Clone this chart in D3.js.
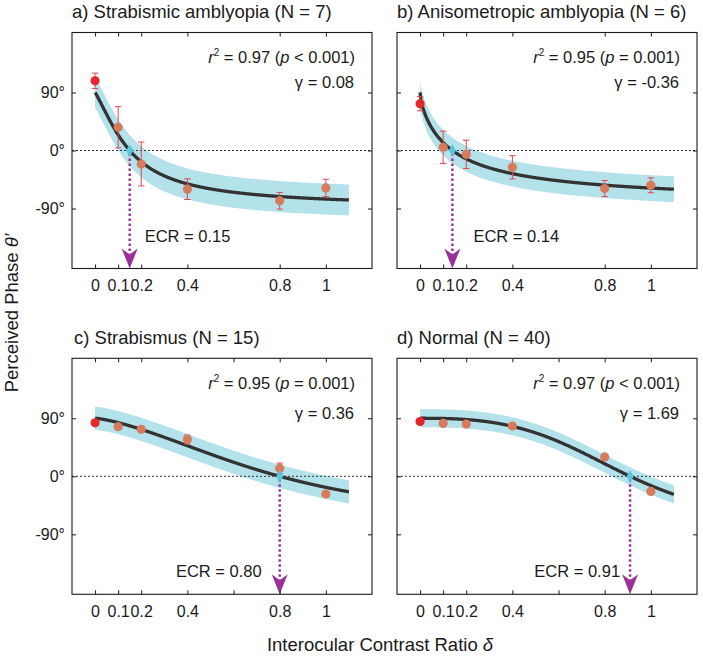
<!DOCTYPE html>
<html><head><meta charset="utf-8">
<script src="https://cdn.jsdelivr.net/npm/d3@7"></script>
<style>
body{margin:0;background:#fff;}
svg{display:block;}
text{font-family:Arial,"Liberation Sans",sans-serif;fill:#1a1a1a;white-space:pre;}
</style>
</head><body>
<svg id="chart" width="703" height="658"></svg>
<script>
// ---------- data ----------
const deltas = [0, 0.1, 0.2, 0.4, 0.8, 1];
const titles = ["a) Strabismic amblyopia (N = 7)", "b) Anisometropic amblyopia (N = 6)",
                "c) Strabismus (N = 15)", "d) Normal (N = 40)"];
const phaseA = [108, 36, -21, -60, -78, -58];
const errA   = [12, 32, 34, 16, 13, 13.5];
const phaseB = [72.5, 5, -6, -26, -59, -54];
const errB   = [11, 25, 22, 18, 12.5, 11.5];
const phaseC = [83, 77, 73, 57, 12.5, -27.6];
const errC   = [3, 3, 3, 7, 8, 4];
const phaseD = [85, 82, 81, 78, 30, -23.5];
const errD   = [2, 2, 2, 2, 2, 2];
const ecrValues   = [0.15, 0.14, 0.80, 0.91];
const ecrLabels   = ["0.15", "0.14", "0.80", "0.91"];
const gammaValues = [0.08, -0.36, 0.36, 1.69];
const gammaLabels = ["0.08", "-0.36", "0.36", "1.69"];
const r2Labels    = ["0.97", "0.95", "0.95", "0.97"];
const pLabels     = ["< 0.001", "= 0.001", "= 0.001", "< 0.001"];
const bandHalfWidth = [24, 20, 18, 14];       // degrees
const xTicksTop    = [0, 0.1, 0.2, 0.4, 0.8, 1];
const xTicksBottom = [0, 0.1, 0.2, 0.4, 0.6, 0.8, 1];
const xTickLabels  = {0: "0", 0.1: "0.1", 0.2: "0.2", 0.4: "0.4", 0.8: "0.8", 1: "1"};
const yTicks = [-90, 0, 90];
const yTickLabels = {"-90": "-90°", "0": "0°", "90": "90°"};
const fitRange = [0, 1.1];

const phases = [phaseA, phaseB, phaseC, phaseD];
const errs = [errA, errB, errC, errD];

// ---------- layout ----------
const W = 300, H = 236;
const layout = [
  {x0: 72,  y0: 32.5,  titleX: 72,  ecrDx: 15,  ecrAnchor: "start", ecrDy: -27, gDy: 55, xt: xTicksTop,    yl: true},
  {x0: 397, y0: 32.5,  titleX: 397, ecrDx: 21,  ecrAnchor: "start", ecrDy: -27, gDy: 55, xt: xTicksTop,    yl: false},
  {x0: 72,  y0: 358.3, titleX: 74,  ecrDx: -18, ecrAnchor: "end",   ecrDy: -17, gDy: 61, xt: xTicksBottom, yl: true},
  {x0: 397, y0: 358.3, titleX: 397, ecrDx: -10, ecrAnchor: "end",   ecrDy: -17, gDy: 61, xt: xTicksBottom, yl: false}
];

const C = {
  band: "#b4e2eb", curve: "#333333", red: "#e5262b", salmon: "#d67b5c",
  err: "#e0474f", arrow: "#9b309b", diamond: "#5bc5de", frame: "#1a1a1a"
};

// fitted phase-combination model (parameters ECR and gamma from the chart)
function model(d, ecr, g) {
  const r = Math.pow(d / ecr, 1 + g);
  return 2 * Math.atan((1 - r) / (1 + r)) * 180 / Math.PI;
}

const svg = d3.select("#chart");

layout.forEach((L, i) => {
  const x = d3.scaleLinear().domain([-0.1, 1.2]).range([L.x0, L.x0 + W]);
  const y = d3.scaleLinear().domain([-183, 183]).range([L.y0 + H, L.y0]);
  const g = svg.append("g");
  const ecr = ecrValues[i], gam = gammaValues[i];

  // clip
  const cid = "clip" + i;
  svg.append("clipPath").attr("id", cid).append("rect")
    .attr("x", L.x0).attr("y", L.y0).attr("width", W).attr("height", H);
  const inner = g.append("g").attr("clip-path", `url(#${cid})`);

  const samples = d3.range(fitRange[0], fitRange[1] + 1e-9, 0.002);
  const band = bandHalfWidth[i];
  inner.append("path").datum(samples)
    .attr("d", d3.area().x(d => x(d))
      .y0(d => y(model(d, ecr, gam) - band))
      .y1(d => y(model(d, ecr, gam) + band)))
    .attr("fill", C.band);

  // zero dotted line
  inner.append("line").attr("x1", L.x0).attr("x2", L.x0 + W)
    .attr("y1", y(0)).attr("y2", y(0))
    .attr("stroke", "#333").attr("stroke-width", 1).attr("stroke-dasharray", "2,2");

  // fitted curve
  inner.append("path").datum(samples)
    .attr("d", d3.line().x(d => x(d)).y(d => y(model(d, ecr, gam))))
    .attr("fill", "none").attr("stroke", C.curve).attr("stroke-width", 3.3);

  // error bars
  const pts = deltas.map((d, k) => ({d, v: phases[i][k], e: errs[i][k], k}));
  const eb = inner.append("g").attr("stroke", C.err).attr("stroke-width", 1);
  pts.forEach(p => {
    eb.append("line").attr("x1", x(p.d)).attr("x2", x(p.d)).attr("y1", y(p.v - p.e)).attr("y2", y(p.v + p.e));
    [p.v - p.e, p.v + p.e].forEach(v => {
      eb.append("line").attr("x1", x(p.d) - 3.2).attr("x2", x(p.d) + 3.2).attr("y1", y(v)).attr("y2", y(v));
    });
  });
  // points
  inner.selectAll("circle.pt").data(pts).join("circle").attr("class", "pt")
    .attr("cx", p => x(p.d)).attr("cy", p => y(p.v)).attr("r", 4.6)
    .attr("fill", p => p.k === 0 ? C.red : C.salmon);

  // ECR arrow
  const ax = x(ecr), bottom = L.y0 + H;
  g.append("line").attr("x1", ax).attr("x2", ax).attr("y1", y(0) + 3).attr("y2", bottom - 14)
    .attr("stroke", C.arrow).attr("stroke-width", 2.4).attr("stroke-dasharray", "2.5,2.5");
  g.append("path")
    .attr("d", `M${ax},${bottom} L${ax - 8},${bottom - 20} L${ax},${bottom - 14} L${ax + 8},${bottom - 20} Z`)
    .attr("fill", C.arrow);
  g.append("path").attr("transform", `translate(${ax},${y(0)})`)
    .attr("d", d3.symbol(d3.symbolDiamond, 45)()).attr("fill", C.diamond);

  // frame
  g.append("rect").attr("x", L.x0).attr("y", L.y0).attr("width", W).attr("height", H)
    .attr("fill", "none").attr("stroke", C.frame).attr("stroke-width", 1.1);

  // axes (inward ticks)
  const styleAxis = sel => {
    sel.select(".domain").remove();
    sel.selectAll("line").attr("stroke", C.frame);
    sel.selectAll("text").attr("font-size", 16).attr("font-family", 'Arial,"Liberation Sans",sans-serif').attr("fill", "#1a1a1a");
  };
  g.append("g").attr("transform", `translate(0,${bottom})`)
    .call(d3.axisBottom(x).tickValues(L.xt).tickSize(-4).tickPadding(11)
      .tickFormat(d => xTickLabels[d] || "")).call(styleAxis);
  g.append("g").attr("transform", `translate(0,${L.y0})`)
    .call(d3.axisTop(x).tickValues(L.xt).tickSize(-4).tickFormat("")).call(styleAxis);
  g.append("g").attr("transform", `translate(${L.x0},0)`)
    .call(d3.axisLeft(y).tickValues(yTicks).tickSize(-4).tickPadding(7)
      .tickFormat(d => L.yl ? yTickLabels[String(d)] : "")).call(styleAxis);
  g.append("g").attr("transform", `translate(${L.x0 + W},0)`)
    .call(d3.axisRight(y).tickValues(yTicks).tickSize(-4).tickFormat("")).call(styleAxis);

  // title
  g.append("text").attr("x", L.titleX).attr("y", L.y0 - 14.2)
    .attr("font-size", 18.5).text(titles[i]);

  // r2 annotation
  const rx = L.x0 + W - 17;
  const t = g.append("text").attr("x", rx).attr("y", L.y0 + 30.5)
    .attr("text-anchor", "end").attr("font-size", 16.5);
  t.append("tspan").attr("font-style", "italic").text("r");
  t.append("tspan").attr("font-size", 10).attr("dy", -7).text("2");
  t.append("tspan").attr("dy", 7).text(" = " + r2Labels[i] + " (");
  t.append("tspan").attr("font-style", "italic").text("p");
  t.append("tspan").text(" " + pLabels[i] + ")");

  g.append("text").attr("x", rx - 1).attr("y", L.y0 + L.gDy)
    .attr("text-anchor", "end").attr("font-size", 16.5)
    .text("γ = " + gammaLabels[i]);

  // ECR label
  g.append("text").attr("x", ax + L.ecrDx).attr("y", bottom + L.ecrDy)
    .attr("text-anchor", L.ecrAnchor).attr("font-size", 16.5)
    .text("ECR = " + ecrLabels[i]);
});

// axis titles
svg.append("text").attr("transform", "translate(18,313) rotate(-90)")
  .attr("text-anchor", "middle").attr("font-size", 18.5)
  .call(s => { s.append("tspan").text("Perceived Phase "); s.append("tspan").attr("font-style", "italic").text("θ′"); });
svg.append("text").attr("x", 380).attr("y", 651)
  .attr("text-anchor", "middle").attr("font-size", 18.5)
  .call(s => { s.append("tspan").text("Interocular Contrast Ratio "); s.append("tspan").attr("font-style", "italic").text("δ"); });
</script>
</body></html>
